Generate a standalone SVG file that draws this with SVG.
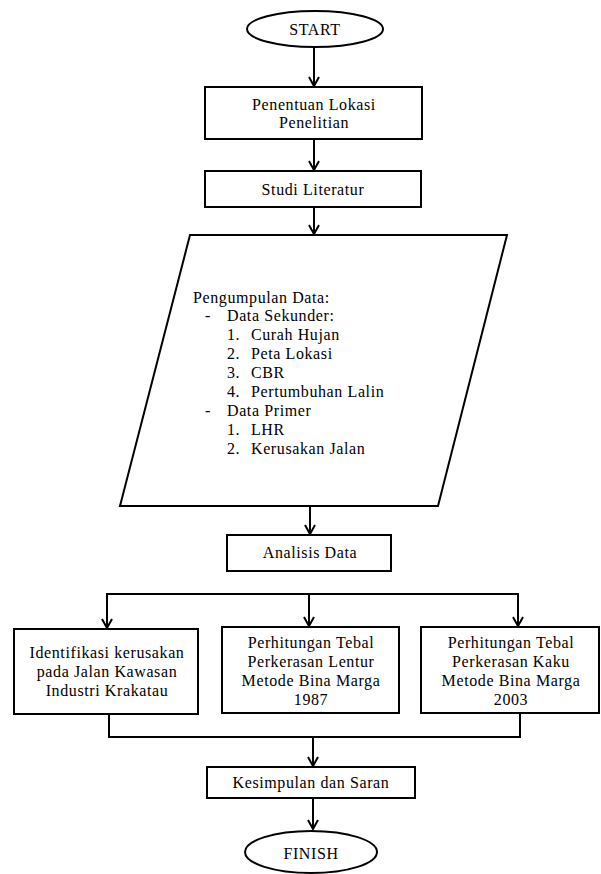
<svg xmlns="http://www.w3.org/2000/svg" width="601" height="874" viewBox="0 0 601 874">
<defs>
<style>
.shape{fill:#fff;stroke:#000;stroke-width:2}
.line{fill:none;stroke:#000;stroke-width:2}
.arrow{fill:none;stroke:#000;stroke-width:2;marker-end:url(#ah)}
text{font-family:"Liberation Serif","Times New Roman",serif;font-size:16px;fill:#000;letter-spacing:0.6px}
.c{text-anchor:middle}
</style>
<marker id="ah" markerUnits="userSpaceOnUse" viewBox="0 0 12 12" markerWidth="12" markerHeight="12" refX="11" refY="6" orient="auto">
<path d="M2,1 L11,6 L2,11" fill="none" stroke="#000" stroke-width="2"/>
</marker>
</defs>
<rect width="601" height="874" fill="#fff"/>
<g id="connectors">
<line class="arrow" x1="314" y1="47" x2="314" y2="86"/>
<line class="arrow" x1="314" y1="139" x2="314" y2="170"/>
<line class="arrow" x1="314" y1="207" x2="314" y2="234"/>
<line class="arrow" x1="310" y1="506" x2="310" y2="534"/>
<polyline class="line" points="107,627 107,594 518,594 518,626"/>
<line class="arrow" x1="107" y1="594" x2="107" y2="628"/>
<line class="arrow" x1="309" y1="594" x2="309" y2="626"/>
<line class="arrow" x1="518" y1="594" x2="518" y2="626"/>
<polyline class="line" points="109,714 109,737 520,737 520,713"/>
<line class="arrow" x1="313" y1="737" x2="313" y2="766"/>
<line class="arrow" x1="313" y1="798" x2="313" y2="829"/>
</g>
<g id="start">
<ellipse class="shape" cx="315" cy="29" rx="68" ry="18"/>
<text class="c" x="315" y="35">START</text>
</g>
<g id="lokasi">
<rect class="shape" x="205" y="87" width="217" height="52"/>
<text class="c" x="314" y="110">Penentuan Lokasi</text>
<text class="c" x="314" y="128">Penelitian</text>
</g>
<g id="literatur">
<rect class="shape" x="205" y="171" width="216" height="36"/>
<text class="c" x="313" y="195">Studi Literatur</text>
</g>
<g id="pengumpulan">
<polygon class="shape" points="190,235 507,235 438,506 120,506"/>
<text x="193" y="303">Pengumpulan Data:</text>
<text x="205" y="321">-</text>
<text x="227" y="321">Data Sekunder:</text>
<text x="227" y="340">1.</text><text x="251" y="340">Curah Hujan</text>
<text x="227" y="359">2.</text><text x="251" y="359">Peta Lokasi</text>
<text x="227" y="378">3.</text><text x="251" y="378">CBR</text>
<text x="227" y="397">4.</text><text x="251" y="397">Pertumbuhan  Lalin</text>
<text x="205" y="416">-</text>
<text x="227" y="416">Data Primer</text>
<text x="227" y="435">1.</text><text x="251" y="435">LHR</text>
<text x="227" y="454">2.</text><text x="251" y="454">Kerusakan Jalan</text>
</g>
<g id="analisis">
<rect class="shape" x="227" y="535" width="164" height="36"/>
<text class="c" x="310" y="558">Analisis Data</text>
</g>
<g id="identifikasi">
<rect class="shape" x="14" y="629" width="184" height="85"/>
<text class="c" x="107" y="658">Identifikasi kerusakan</text>
<text class="c" x="107" y="677">pada Jalan Kawasan</text>
<text class="c" x="107" y="696">Industri Krakatau</text>
</g>
<g id="lentur">
<rect class="shape" x="222" y="627" width="177" height="86"/>
<text class="c" x="311" y="648">Perhitungan Tebal</text>
<text class="c" x="311" y="667">Perkerasan Lentur</text>
<text class="c" x="311" y="686">Metode Bina Marga</text>
<text class="c" x="311" y="705">1987</text>
</g>
<g id="kaku">
<rect class="shape" x="421" y="627" width="178" height="86"/>
<text class="c" x="511" y="648">Perhitungan Tebal</text>
<text class="c" x="511" y="667">Perkerasan Kaku</text>
<text class="c" x="511" y="686">Metode Bina Marga</text>
<text class="c" x="511" y="705">2003</text>
</g>
<g id="kesimpulan">
<rect class="shape" x="207" y="767" width="208" height="31"/>
<text class="c" x="311" y="788">Kesimpulan dan Saran</text>
</g>
<g id="finish">
<ellipse class="shape" cx="311" cy="852" rx="66" ry="21"/>
<text class="c" x="311" y="859">FINISH</text>
</g>
</svg>
